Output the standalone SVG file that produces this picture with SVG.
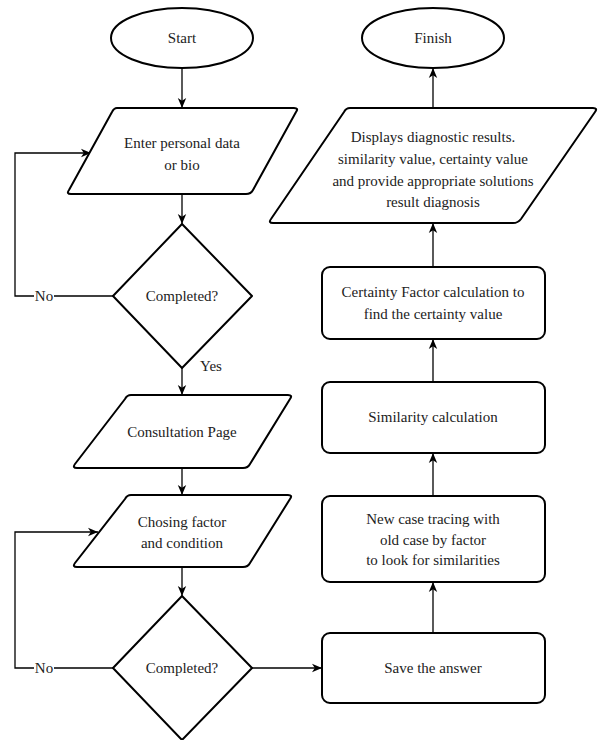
<svg xmlns="http://www.w3.org/2000/svg" width="599" height="740" viewBox="0 0 599 740">
<style>
  .shape { fill: #ffffff; stroke: #000000; stroke-width: 2; stroke-linejoin: round; }
  .edge { fill: none; stroke: #000000; stroke-width: 1.3; marker-end: url(#arrow); }
  text { font-size: 15px; fill: #222222; text-anchor: middle; dominant-baseline: central; }
</style>
<defs>
  <marker id="arrow" viewBox="0 0 10 10" refX="10" refY="5" markerWidth="10" markerHeight="10" markerUnits="userSpaceOnUse" orient="auto">
    <path d="M0,0.8 L10,5 L0,9.2 L2.8,5 Z" fill="#000000"/>
  </marker>
</defs>

<!-- connectors -->
<g id="connectors">
  <line class="edge" x1="182" y1="68" x2="182" y2="108"/>
  <line class="edge" x1="182" y1="194" x2="182" y2="224"/>
  <polyline class="edge" points="113,296 15,296 15,153 91,153"/>
  <line class="edge" x1="182" y1="368" x2="182" y2="395"/>
  <line class="edge" x1="182" y1="468" x2="182" y2="495"/>
  <line class="edge" x1="182" y1="567" x2="182" y2="596"/>
  <polyline class="edge" points="113,668 15,668 15,532 98,532"/>
  <line class="edge" x1="252" y1="668" x2="322" y2="668"/>
  <line class="edge" x1="433" y1="633" x2="433" y2="582"/>
  <line class="edge" x1="433" y1="496" x2="433" y2="453"/>
  <line class="edge" x1="433" y1="382" x2="433" y2="339"/>
  <line class="edge" x1="433" y1="267" x2="433" y2="223"/>
  <line class="edge" x1="433" y1="108" x2="433" y2="68"/>
  <rect x="34" y="287" width="20" height="18" fill="#ffffff"/>
  <text x="44" y="296" style="font-family:'Liberation Serif'">No</text>
  <rect x="34" y="659" width="20" height="18" fill="#ffffff"/>
  <text x="44" y="668" style="font-family:'Liberation Serif'">No</text>
  <text x="211" y="366" style="font-family:'Liberation Serif'">Yes</text>
</g>

<g id="start">
  <ellipse class="shape" cx="182" cy="38" rx="71" ry="30"/>
  <text x="182" y="38" style="font-family:'Liberation Serif'">Start</text>
</g>

<g id="enter-data">
  <path class="shape" d="M117,108 L294,108 Q299,108 296,112 L253,190 Q251,194 246,194 L71,194 Q66,194 69,190 L112,112 Q114,108 117,108 Z"/>
  <text x="182" y="143" style="font-family:'Liberation Serif'">Enter personal data</text>
  <text x="182" y="165" style="font-family:'Liberation Serif'">or bio</text>
</g>

<g id="completed-1">
  <polygon class="shape" points="182,224 252,296 182,368 113,296"/>
  <text x="182" y="296" style="font-family:'Liberation Serif'">Completed?</text>
</g>

<g id="consultation">
  <path class="shape" d="M131,395 L288,395 Q293,395 290,399 L250,464 Q248,468 243,468 L77,468 Q72,468 75,464 L125,399 Q127,395 131,395 Z"/>
  <text x="182" y="432" style="font-family:'Liberation Serif'">Consultation Page</text>
</g>

<g id="choosing">
  <path class="shape" d="M131,495 L288,495 Q293,495 290,499 L250,563 Q248,567 243,567 L77,567 Q72,567 75,563 L125,499 Q127,495 131,495 Z"/>
  <text x="182" y="522" style="font-family:'Liberation Serif'">Chosing factor</text>
  <text x="182" y="543" style="font-family:'Liberation Serif'">and condition</text>
</g>

<g id="completed-2">
  <polygon class="shape" points="182,596 252,668 182,740 113,668"/>
  <text x="182" y="668" style="font-family:'Liberation Serif'">Completed?</text>
</g>

<g id="save-answer">
  <rect class="shape" x="322" y="633" width="223" height="70" rx="8"/>
  <text x="433" y="668" style="font-family:'Liberation Serif'">Save the answer</text>
</g>

<g id="case-tracing">
  <rect class="shape" x="322" y="496" width="223" height="86" rx="8"/>
  <text x="433" y="519" style="font-family:'Liberation Serif'">New case tracing with</text>
  <text x="433" y="540" style="font-family:'Liberation Serif'">old case by factor</text>
  <text x="433" y="560" style="font-family:'Liberation Serif'">to look for similarities</text>
</g>

<g id="similarity">
  <rect class="shape" x="322" y="382" width="223" height="71" rx="8"/>
  <text x="433" y="417" style="font-family:'Liberation Serif'">Similarity calculation</text>
</g>

<g id="certainty">
  <rect class="shape" x="322" y="267" width="223" height="72" rx="8"/>
  <text x="433" y="292" style="font-family:'Liberation Serif'">Certainty Factor calculation to</text>
  <text x="433" y="314" style="font-family:'Liberation Serif'">find the certainty value</text>
</g>

<g id="display-results">
  <path class="shape" d="M350,108 L593,108 Q598,108 595,112 L521,219 Q518,223 513,223 L273,223 Q268,223 271,219 L344,112 Q346,108 350,108 Z"/>
  <text x="433" y="137" style="font-family:'Liberation Serif'">Displays diagnostic results.</text>
  <text x="433" y="159" style="font-family:'Liberation Serif'">similarity value, certainty value</text>
  <text x="433" y="181" style="font-family:'Liberation Serif'">and provide appropriate solutions</text>
  <text x="433" y="202" style="font-family:'Liberation Serif'">result diagnosis</text>
</g>

<g id="finish">
  <ellipse class="shape" cx="433" cy="38" rx="71" ry="30"/>
  <text x="433" y="38" style="font-family:'Liberation Serif'">Finish</text>
</g>
</svg>
